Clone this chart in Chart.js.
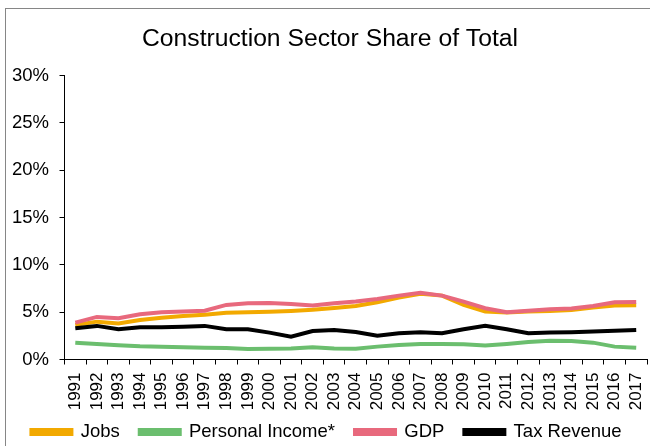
<!DOCTYPE html>
<html>
<head>
<meta charset="utf-8">
<script src="https://cdn.jsdelivr.net/npm/chart.js@4"></script>
<style>
  html, body { margin: 0; padding: 0; background: #fff; overflow: hidden; }
  canvas { display: block; }
</style>
</head>
<body>
<canvas id="c" width="650" height="446"></canvas>
<script>
const years = ['1991','1992','1993','1994','1995','1996','1997','1998','1999','2000','2001','2002','2003','2004','2005','2006','2007','2008','2009','2010','2011','2012','2013','2014','2015','2016','2017'];
const jobs = [3.65, 4.0, 3.8, 4.18, 4.42, 4.6, 4.74, 4.93, 5.0, 5.05, 5.13, 5.25, 5.45, 5.65, 6.05, 6.55, 6.95, 6.75, 5.77, 5.06, 4.96, 5.06, 5.13, 5.24, 5.48, 5.7, 5.72];
const personalIncome = [1.78, 1.64, 1.5, 1.4, 1.36, 1.3, 1.25, 1.22, 1.12, 1.13, 1.15, 1.3, 1.15, 1.13, 1.36, 1.53, 1.64, 1.64, 1.6, 1.48, 1.64, 1.85, 1.99, 1.95, 1.78, 1.36, 1.25];
const gdp = [3.9, 4.5, 4.35, 4.78, 5.0, 5.06, 5.16, 5.77, 5.95, 5.98, 5.87, 5.7, 5.95, 6.12, 6.4, 6.75, 7.05, 6.75, 6.12, 5.42, 5.0, 5.16, 5.3, 5.38, 5.66, 6.05, 6.08];
const taxRevenue = [3.3, 3.55, 3.2, 3.4, 3.4, 3.47, 3.55, 3.2, 3.2, 2.84, 2.42, 3.0, 3.12, 2.9, 2.52, 2.77, 2.88, 2.77, 3.2, 3.55, 3.2, 2.77, 2.84, 2.88, 2.95, 3.05, 3.12];
const seriesNames = ['Jobs', 'Personal Income*', 'GDP', 'Tax Revenue'];
const seriesColors = ['#F2A900', '#6BBE6E', '#E8697D', '#000000'];
const yTicks = [0, 5, 10, 15, 20, 25, 30];

const FONT = 'Arial, "Liberation Sans", sans-serif';

const borderPlugin = {
  id: 'outerBorder',
  afterLayout(chart) {
    if (chart.titleBlock) { chart.titleBlock.left += 7; }
  },
  afterDraw(chart) {
    const ctx = chart.ctx;
    ctx.save();
    ctx.strokeStyle = '#868686';
    ctx.lineWidth = 1;
    ctx.strokeRect(5.5, 8.5, 700, 500);
    ctx.restore();
  }
};

const allSeries = [jobs, personalIncome, gdp, taxRevenue];
const datasets = allSeries.map((d, i) => ({
  label: seriesNames[i],
  data: d,
  borderColor: seriesColors[i],
  backgroundColor: seriesColors[i],
  borderWidth: 4,
  pointRadius: 0,
  tension: 0,
  fill: false,
  order: 4 - i
}));

new Chart(document.getElementById('c'), {
  type: 'line',
  data: { labels: years, datasets },
  plugins: [borderPlugin],
  options: {
    responsive: false,
    animation: false,
    layout: { padding: { left: 6, right: 3, top: 24, bottom: -5.25 } },
    plugins: {
      title: {
        display: true,
        text: 'Construction Sector Share of Total',
        color: '#000',
        font: { family: FONT, size: 24.7, weight: 'normal' },
        padding: { top: 0, bottom: 21.9 }
      },
      legend: {
        position: 'bottom',
        labels: {
          color: '#000',
          font: { family: FONT, size: 18.5 },
          boxWidth: 40,
          boxHeight: 4,
          padding: 20,
          sort: (a, b) => a.datasetIndex - b.datasetIndex
        }
      },
      tooltip: { enabled: false }
    },
    scales: {
      x: {
        offset: true,
        afterFit(scale) {
          scale.height = 43.25;
          scale.paddingLeft = 0;
          scale.paddingRight = 0;
          scale._computeLabelArea = () => undefined;
        },
        grid: { display: true, offset: true, drawOnChartArea: false, drawTicks: true, tickLength: 5, color: '#000' },
        border: { display: true, color: '#000', width: 1 },
        ticks: {
          color: '#000',
          font: { family: FONT, size: 17 },
          minRotation: 90, maxRotation: 90,
          autoSkip: false,
          padding: 8
        }
      },
      y: {
        min: 0, max: 30,
        afterBuildTicks(scale) { scale.ticks = yTicks.map(v => ({ value: v })); },
        afterFit(scale) { scale.width = 58.5; scale.paddingTop = 0; scale.paddingBottom = 0; },
        grid: { display: true, drawOnChartArea: false, drawTicks: true, tickLength: 5, color: '#000' },
        border: { display: true, color: '#000', width: 1 },
        ticks: {
          color: '#000',
          font: { family: FONT, size: 18.5 },
          padding: 10.5,
          callback: v => v + '%'
        }
      }
    }
  }
});
</script>
</body>
</html>
